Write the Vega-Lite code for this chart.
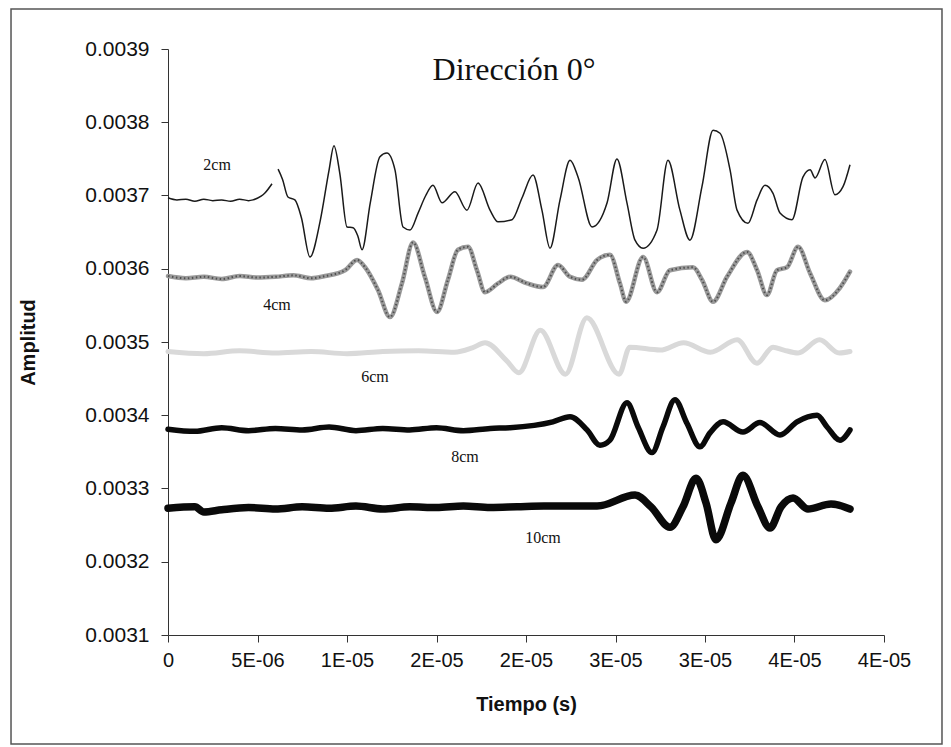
{
  "$schema": "https://vega.github.io/schema/vega-lite/v6.json",
  "width": 716,
  "height": 586,
  "autosize": {"type": "none"},
  "padding": {"left": 168, "top": 49, "right": 67, "bottom": 112},
  "background": "white",
  "config": {"view": {"stroke": null}, "font": "Liberation Sans"},
  "datasets": {
    "series": [
      {"s":"2cm","g":"2a","t":0,"v":0.003697},{"s":"2cm","g":"2a","t":0.5e-6,"v":0.003694},{"s":"2cm","g":"2a","t":1.0e-6,"v":0.003695},{"s":"2cm","g":"2a","t":1.5e-6,"v":0.003692},{"s":"2cm","g":"2a","t":2.0e-6,"v":0.003695},{"s":"2cm","g":"2a","t":2.5e-6,"v":0.003693},{"s":"2cm","g":"2a","t":3.0e-6,"v":0.003694},{"s":"2cm","g":"2a","t":3.5e-6,"v":0.003692},{"s":"2cm","g":"2a","t":4.0e-6,"v":0.003695},{"s":"2cm","g":"2a","t":4.5e-6,"v":0.003693},{"s":"2cm","g":"2a","t":4.75e-6,"v":0.003694},{"s":"2cm","g":"2a","t":5.2e-6,"v":0.003699},{"s":"2cm","g":"2a","t":5.4e-6,"v":0.003703},{"s":"2cm","g":"2a","t":5.81e-6,"v":0.003716},
      {"s":"2cm","g":"2b","t":6.15e-6,"v":0.003736},{"s":"2cm","g":"2b","t":6.4e-6,"v":0.003722},{"s":"2cm","g":"2b","t":6.7e-6,"v":0.003698},{"s":"2cm","g":"2b","t":7.09e-6,"v":0.003694},{"s":"2cm","g":"2b","t":7.45e-6,"v":0.003670},{"s":"2cm","g":"2b","t":7.93e-6,"v":0.003616},{"s":"2cm","g":"2b","t":8.5e-6,"v":0.003665},{"s":"2cm","g":"2b","t":9.0e-6,"v":0.003735},{"s":"2cm","g":"2b","t":9.27e-6,"v":0.003768},{"s":"2cm","g":"2b","t":9.6e-6,"v":0.003730},{"s":"2cm","g":"2b","t":10.0e-6,"v":0.003657},{"s":"2cm","g":"2b","t":10.34e-6,"v":0.003656},{"s":"2cm","g":"2b","t":10.6e-6,"v":0.003645},{"s":"2cm","g":"2b","t":10.84e-6,"v":0.003626},{"s":"2cm","g":"2b","t":11.3e-6,"v":0.003690},{"s":"2cm","g":"2b","t":11.84e-6,"v":0.003753},{"s":"2cm","g":"2b","t":12.23e-6,"v":0.003758},{"s":"2cm","g":"2b","t":12.68e-6,"v":0.003735},{"s":"2cm","g":"2b","t":13.13e-6,"v":0.003657},{"s":"2cm","g":"2b","t":13.52e-6,"v":0.003653},{"s":"2cm","g":"2b","t":13.97e-6,"v":0.003676},{"s":"2cm","g":"2b","t":14.4e-6,"v":0.003700},{"s":"2cm","g":"2b","t":14.8e-6,"v":0.003714},{"s":"2cm","g":"2b","t":15.31e-6,"v":0.003690},{"s":"2cm","g":"2b","t":16.03e-6,"v":0.003705},{"s":"2cm","g":"2b","t":16.7e-6,"v":0.003680},{"s":"2cm","g":"2b","t":17.32e-6,"v":0.003717},{"s":"2cm","g":"2b","t":17.99e-6,"v":0.003680},{"s":"2cm","g":"2b","t":18.44e-6,"v":0.003664},{"s":"2cm","g":"2b","t":19.22e-6,"v":0.003667},{"s":"2cm","g":"2b","t":19.78e-6,"v":0.003697},{"s":"2cm","g":"2b","t":20.39e-6,"v":0.003728},{"s":"2cm","g":"2b","t":20.89e-6,"v":0.003680},{"s":"2cm","g":"2b","t":21.34e-6,"v":0.003628},{"s":"2cm","g":"2b","t":21.9e-6,"v":0.003694},{"s":"2cm","g":"2b","t":22.46e-6,"v":0.003748},{"s":"2cm","g":"2b","t":22.91e-6,"v":0.003725},{"s":"2cm","g":"2b","t":23.69e-6,"v":0.003657},{"s":"2cm","g":"2b","t":24.53e-6,"v":0.003690},{"s":"2cm","g":"2b","t":25.08e-6,"v":0.003750},{"s":"2cm","g":"2b","t":25.64e-6,"v":0.003690},{"s":"2cm","g":"2b","t":26.09e-6,"v":0.003639},{"s":"2cm","g":"2b","t":26.54e-6,"v":0.003628},{"s":"2cm","g":"2b","t":27.32e-6,"v":0.003653},{"s":"2cm","g":"2b","t":27.93e-6,"v":0.003748},{"s":"2cm","g":"2b","t":28.6e-6,"v":0.003680},{"s":"2cm","g":"2b","t":29.16e-6,"v":0.003639},{"s":"2cm","g":"2b","t":29.83e-6,"v":0.003712},{"s":"2cm","g":"2b","t":30.45e-6,"v":0.003789},{"s":"2cm","g":"2b","t":30.84e-6,"v":0.003785},{"s":"2cm","g":"2b","t":31.4e-6,"v":0.003735},{"s":"2cm","g":"2b","t":31.79e-6,"v":0.003680},{"s":"2cm","g":"2b","t":32.4e-6,"v":0.003662},{"s":"2cm","g":"2b","t":32.91e-6,"v":0.003694},{"s":"2cm","g":"2b","t":33.35e-6,"v":0.003714},{"s":"2cm","g":"2b","t":33.8e-6,"v":0.003703},{"s":"2cm","g":"2b","t":34.19e-6,"v":0.003676},{"s":"2cm","g":"2b","t":34.86e-6,"v":0.003667},{"s":"2cm","g":"2b","t":35.47e-6,"v":0.003725},{"s":"2cm","g":"2b","t":35.87e-6,"v":0.003735},{"s":"2cm","g":"2b","t":36.15e-6,"v":0.003724},{"s":"2cm","g":"2b","t":36.7e-6,"v":0.003749},{"s":"2cm","g":"2b","t":37.26e-6,"v":0.003701},{"s":"2cm","g":"2b","t":37.71e-6,"v":0.003712},{"s":"2cm","g":"2b","t":38.1e-6,"v":0.003742},

      {"s":"4cm","g":"4","t":0,"v":0.003590},{"s":"4cm","g":"4","t":1e-6,"v":0.003587},{"s":"4cm","g":"4","t":2e-6,"v":0.003589},{"s":"4cm","g":"4","t":3e-6,"v":0.003586},{"s":"4cm","g":"4","t":4e-6,"v":0.003590},{"s":"4cm","g":"4","t":5e-6,"v":0.003588},{"s":"4cm","g":"4","t":6e-6,"v":0.003589},{"s":"4cm","g":"4","t":7e-6,"v":0.003591},{"s":"4cm","g":"4","t":8e-6,"v":0.003587},{"s":"4cm","g":"4","t":8.77e-6,"v":0.003590},{"s":"4cm","g":"4","t":9.89e-6,"v":0.003598},{"s":"4cm","g":"4","t":10.56e-6,"v":0.003612},{"s":"4cm","g":"4","t":11.01e-6,"v":0.003602},{"s":"4cm","g":"4","t":11.73e-6,"v":0.003571},{"s":"4cm","g":"4","t":12.4e-6,"v":0.003534},{"s":"4cm","g":"4","t":13.07e-6,"v":0.003580},{"s":"4cm","g":"4","t":13.69e-6,"v":0.003636},{"s":"4cm","g":"4","t":14.36e-6,"v":0.003588},{"s":"4cm","g":"4","t":15.03e-6,"v":0.003541},{"s":"4cm","g":"4","t":15.64e-6,"v":0.003585},{"s":"4cm","g":"4","t":16.2e-6,"v":0.003626},{"s":"4cm","g":"4","t":16.76e-6,"v":0.003630},{"s":"4cm","g":"4","t":17.26e-6,"v":0.003598},{"s":"4cm","g":"4","t":17.71e-6,"v":0.003568},{"s":"4cm","g":"4","t":18.44e-6,"v":0.003580},{"s":"4cm","g":"4","t":19.11e-6,"v":0.003589},{"s":"4cm","g":"4","t":20.06e-6,"v":0.003580},{"s":"4cm","g":"4","t":20.95e-6,"v":0.003575},{"s":"4cm","g":"4","t":21.79e-6,"v":0.003605},{"s":"4cm","g":"4","t":22.46e-6,"v":0.003589},{"s":"4cm","g":"4","t":23.13e-6,"v":0.003585},{"s":"4cm","g":"4","t":23.97e-6,"v":0.003612},{"s":"4cm","g":"4","t":24.69e-6,"v":0.003619},{"s":"4cm","g":"4","t":25.25e-6,"v":0.003580},{"s":"4cm","g":"4","t":25.59e-6,"v":0.003555},{"s":"4cm","g":"4","t":26.54e-6,"v":0.003616},{"s":"4cm","g":"4","t":27.32e-6,"v":0.003568},{"s":"4cm","g":"4","t":28.04e-6,"v":0.003598},{"s":"4cm","g":"4","t":29.33e-6,"v":0.003602},{"s":"4cm","g":"4","t":29.83e-6,"v":0.003585},{"s":"4cm","g":"4","t":30.45e-6,"v":0.003555},{"s":"4cm","g":"4","t":31.23e-6,"v":0.003589},{"s":"4cm","g":"4","t":32.35e-6,"v":0.003623},{"s":"4cm","g":"4","t":32.91e-6,"v":0.003598},{"s":"4cm","g":"4","t":33.46e-6,"v":0.003564},{"s":"4cm","g":"4","t":34.02e-6,"v":0.003598},{"s":"4cm","g":"4","t":34.58e-6,"v":0.003602},{"s":"4cm","g":"4","t":35.2e-6,"v":0.003630},{"s":"4cm","g":"4","t":35.87e-6,"v":0.003594},{"s":"4cm","g":"4","t":36.7e-6,"v":0.003557},{"s":"4cm","g":"4","t":37.54e-6,"v":0.003574},{"s":"4cm","g":"4","t":38.1e-6,"v":0.003596},

      {"s":"6cm","g":"6","t":0,"v":0.003487},{"s":"6cm","g":"6","t":2e-6,"v":0.003484},{"s":"6cm","g":"6","t":4e-6,"v":0.003488},{"s":"6cm","g":"6","t":6e-6,"v":0.003485},{"s":"6cm","g":"6","t":8e-6,"v":0.003487},{"s":"6cm","g":"6","t":10e-6,"v":0.003484},{"s":"6cm","g":"6","t":12e-6,"v":0.003487},{"s":"6cm","g":"6","t":14e-6,"v":0.003488},{"s":"6cm","g":"6","t":16e-6,"v":0.003486},{"s":"6cm","g":"6","t":17e-6,"v":0.003492},{"s":"6cm","g":"6","t":17.71e-6,"v":0.003499},{"s":"6cm","g":"6","t":18.9e-6,"v":0.003475},{"s":"6cm","g":"6","t":19.6e-6,"v":0.003458},{"s":"6cm","g":"6","t":20.8e-6,"v":0.003516},{"s":"6cm","g":"6","t":22.2e-6,"v":0.003456},{"s":"6cm","g":"6","t":23.4e-6,"v":0.003533},{"s":"6cm","g":"6","t":25.2e-6,"v":0.003456},{"s":"6cm","g":"6","t":25.8e-6,"v":0.003493},{"s":"6cm","g":"6","t":27.5e-6,"v":0.003489},{"s":"6cm","g":"6","t":28.8e-6,"v":0.003499},{"s":"6cm","g":"6","t":30.3e-6,"v":0.003486},{"s":"6cm","g":"6","t":31.8e-6,"v":0.003503},{"s":"6cm","g":"6","t":32.9e-6,"v":0.003471},{"s":"6cm","g":"6","t":33.8e-6,"v":0.003493},{"s":"6cm","g":"6","t":34.4e-6,"v":0.003489},{"s":"6cm","g":"6","t":35.2e-6,"v":0.003485},{"s":"6cm","g":"6","t":36.4e-6,"v":0.003503},{"s":"6cm","g":"6","t":37.5e-6,"v":0.003485},{"s":"6cm","g":"6","t":38.1e-6,"v":0.003487},

      {"s":"8cm","g":"8","t":0,"v":0.003381},{"s":"8cm","g":"8","t":1.5e-6,"v":0.003378},{"s":"8cm","g":"8","t":3e-6,"v":0.003383},{"s":"8cm","g":"8","t":4.5e-6,"v":0.003379},{"s":"8cm","g":"8","t":6e-6,"v":0.003382},{"s":"8cm","g":"8","t":7.5e-6,"v":0.003380},{"s":"8cm","g":"8","t":9e-6,"v":0.003384},{"s":"8cm","g":"8","t":10.5e-6,"v":0.003379},{"s":"8cm","g":"8","t":12e-6,"v":0.003382},{"s":"8cm","g":"8","t":13.5e-6,"v":0.003380},{"s":"8cm","g":"8","t":15e-6,"v":0.003383},{"s":"8cm","g":"8","t":16.5e-6,"v":0.003379},{"s":"8cm","g":"8","t":18e-6,"v":0.003382},{"s":"8cm","g":"8","t":19.11e-6,"v":0.003383},{"s":"8cm","g":"8","t":21.5e-6,"v":0.003391},{"s":"8cm","g":"8","t":22.46e-6,"v":0.003398},{"s":"8cm","g":"8","t":23.41e-6,"v":0.003380},{"s":"8cm","g":"8","t":24.13e-6,"v":0.003359},{"s":"8cm","g":"8","t":24.69e-6,"v":0.003366},{"s":"8cm","g":"8","t":25.64e-6,"v":0.003417},{"s":"8cm","g":"8","t":26.26e-6,"v":0.003384},{"s":"8cm","g":"8","t":27.04e-6,"v":0.003349},{"s":"8cm","g":"8","t":27.65e-6,"v":0.003384},{"s":"8cm","g":"8","t":28.32e-6,"v":0.003421},{"s":"8cm","g":"8","t":28.99e-6,"v":0.003389},{"s":"8cm","g":"8","t":29.72e-6,"v":0.003357},{"s":"8cm","g":"8","t":30.28e-6,"v":0.003376},{"s":"8cm","g":"8","t":31.01e-6,"v":0.003391},{"s":"8cm","g":"8","t":32.12e-6,"v":0.003377},{"s":"8cm","g":"8","t":33.07e-6,"v":0.003390},{"s":"8cm","g":"8","t":34.19e-6,"v":0.003373},{"s":"8cm","g":"8","t":35.14e-6,"v":0.003391},{"s":"8cm","g":"8","t":36.26e-6,"v":0.003400},{"s":"8cm","g":"8","t":36.82e-6,"v":0.003384},{"s":"8cm","g":"8","t":37.54e-6,"v":0.003366},{"s":"8cm","g":"8","t":38.1e-6,"v":0.003380},

      {"s":"10cm","g":"10","t":0,"v":0.003273},{"s":"10cm","g":"10","t":1.5e-6,"v":0.003275},{"s":"10cm","g":"10","t":2e-6,"v":0.003268},{"s":"10cm","g":"10","t":3e-6,"v":0.003271},{"s":"10cm","g":"10","t":4.5e-6,"v":0.003274},{"s":"10cm","g":"10","t":6e-6,"v":0.003272},{"s":"10cm","g":"10","t":7.5e-6,"v":0.003275},{"s":"10cm","g":"10","t":9e-6,"v":0.003273},{"s":"10cm","g":"10","t":10.5e-6,"v":0.003276},{"s":"10cm","g":"10","t":12e-6,"v":0.003272},{"s":"10cm","g":"10","t":13.5e-6,"v":0.003275},{"s":"10cm","g":"10","t":15e-6,"v":0.003274},{"s":"10cm","g":"10","t":16.5e-6,"v":0.003276},{"s":"10cm","g":"10","t":18e-6,"v":0.003274},{"s":"10cm","g":"10","t":19.5e-6,"v":0.003275},{"s":"10cm","g":"10","t":21e-6,"v":0.003276},{"s":"10cm","g":"10","t":23.97e-6,"v":0.003276},{"s":"10cm","g":"10","t":26.09e-6,"v":0.003291},{"s":"10cm","g":"10","t":26.98e-6,"v":0.003275},{"s":"10cm","g":"10","t":28.04e-6,"v":0.003247},{"s":"10cm","g":"10","t":28.77e-6,"v":0.003275},{"s":"10cm","g":"10","t":29.5e-6,"v":0.003314},{"s":"10cm","g":"10","t":30.06e-6,"v":0.003280},{"s":"10cm","g":"10","t":30.61e-6,"v":0.003230},{"s":"10cm","g":"10","t":31.45e-6,"v":0.003280},{"s":"10cm","g":"10","t":32.12e-6,"v":0.003318},{"s":"10cm","g":"10","t":32.96e-6,"v":0.003275},{"s":"10cm","g":"10","t":33.63e-6,"v":0.003246},{"s":"10cm","g":"10","t":34.25e-6,"v":0.003275},{"s":"10cm","g":"10","t":34.92e-6,"v":0.003287},{"s":"10cm","g":"10","t":35.75e-6,"v":0.003272},{"s":"10cm","g":"10","t":37.04e-6,"v":0.003279},{"s":"10cm","g":"10","t":38.1e-6,"v":0.003272}
    ],
    "labels": [
      {"txt":"2cm","t":2.74e-6,"v":0.0037416},
      {"txt":"4cm","t":6.09e-6,"v":0.0035505},
      {"txt":"6cm","t":11.56e-6,"v":0.0034523},
      {"txt":"8cm","t":16.59e-6,"v":0.003343},
      {"txt":"10cm","t":20.95e-6,"v":0.0032325}
    ],
    "heading": [
      {"txt":"Dirección 0°","t":19.33e-6,"v":0.0038713}
    ]
  },
  "layer": [
    {
      "data": {"values": [{"frame": "border"}]},
      "mark": {"type": "rect", "fill": "transparent", "stroke": "#555555", "strokeWidth": 1.5, "clip": false},
      "encoding": {
        "x": {"datum": -8.77e-6, "type": "quantitative", "scale": {"domain": [0, 4e-5], "nice": false, "zero": false}},
        "x2": {"datum": 4.324e-5},
        "y": {"datum": 0.0039546, "type": "quantitative", "scale": {"domain": [0.0031, 0.0039], "nice": false, "zero": false}},
        "y2": {"datum": 0.0029512}
      }
    },
    {
      "data": {"name": "series"},
      "transform": [{"filter": "datum.s == '10cm'"}],
      "mark": {"type": "line", "color": "#0a0a0a", "strokeWidth": 7.5, "interpolate": "monotone", "strokeJoin": "round", "strokeCap": "round"},
      "encoding": {
        "x": {
          "field": "t", "type": "quantitative",
          "scale": {"domain": [0, 4e-5], "nice": false, "zero": false},
          "axis": {
            "title": "Tiempo (s)",
            "values": [0, 5e-6, 1e-5, 1.5e-5, 2e-5, 2.5e-5, 3e-5, 3.5e-5, 4e-5],
            "labelExpr": "datum.value == 0 ? '0' : datum.value < 7e-6 ? '5E-06' : datum.value < 1.2e-5 ? '1E-05' : datum.value < 2.2e-5 ? '2E-05' : datum.value < 3.2e-5 ? '3E-05' : '4E-05'",
            "grid": false, "domainColor": "#333333", "tickColor": "#333333", "tickSize": 7,
            "labelFont": "Liberation Sans", "labelFontSize": 20, "labelColor": "#111111", "labelPadding": 8,
            "labelFlush": false, "labelOverlap": false,
            "titleFont": "Liberation Sans", "titleFontSize": 20, "titleFontWeight": "bold", "titleColor": "#111111", "titlePadding": 24
          }
        },
        "y": {
          "field": "v", "type": "quantitative",
          "scale": {"domain": [0.0031, 0.0039], "nice": false, "zero": false},
          "axis": {
            "title": "Amplitud",
            "values": [0.0031, 0.0032, 0.0033, 0.0034, 0.0035, 0.0036, 0.0037, 0.0038, 0.0039],
            "format": ".4f",
            "grid": false, "domainColor": "#333333", "tickColor": "#333333", "tickSize": 7,
            "labelFont": "Liberation Sans", "labelFontSize": 21, "labelColor": "#111111", "labelPadding": 12,
            "titleFont": "Liberation Sans", "titleFontSize": 20, "titleFontWeight": "bold", "titleColor": "#111111", "titlePadding": 46
          }
        },
        "detail": {"field": "g", "type": "nominal"}
      }
    },
    {
      "data": {"name": "series"},
      "transform": [{"filter": "datum.s == '8cm'"}],
      "mark": {"type": "line", "color": "#0a0a0a", "strokeWidth": 5.5, "interpolate": "monotone", "strokeJoin": "round", "strokeCap": "round"},
      "encoding": {"x": {"field": "t", "type": "quantitative"}, "y": {"field": "v", "type": "quantitative"}, "detail": {"field": "g", "type": "nominal"}}
    },
    {
      "data": {"name": "series"},
      "transform": [{"filter": "datum.s == '6cm'"}],
      "mark": {"type": "line", "color": "#d9d9d9", "strokeWidth": 5, "interpolate": "monotone", "strokeJoin": "round", "strokeCap": "round"},
      "encoding": {"x": {"field": "t", "type": "quantitative"}, "y": {"field": "v", "type": "quantitative"}, "detail": {"field": "g", "type": "nominal"}}
    },
    {
      "data": {"name": "series"},
      "transform": [{"filter": "datum.s == '4cm'"}],
      "mark": {"type": "line", "color": "#9a9a9a", "strokeWidth": 4.5, "interpolate": "monotone", "strokeJoin": "round", "strokeCap": "round"},
      "encoding": {"x": {"field": "t", "type": "quantitative"}, "y": {"field": "v", "type": "quantitative"}, "detail": {"field": "g", "type": "nominal"}}
    },
    {
      "data": {"name": "series"},
      "transform": [{"filter": "datum.s == '4cm'"}],
      "mark": {"type": "line", "color": "#505050", "strokeWidth": 2, "strokeDash": [1.5, 2.5], "interpolate": "monotone"},
      "encoding": {"x": {"field": "t", "type": "quantitative"}, "y": {"field": "v", "type": "quantitative"}, "detail": {"field": "g", "type": "nominal"}}
    },
    {
      "data": {"name": "series"},
      "transform": [{"filter": "datum.s == '2cm'"}],
      "mark": {"type": "line", "color": "#1a1a1a", "strokeWidth": 1.5, "interpolate": "monotone", "strokeJoin": "round"},
      "encoding": {"x": {"field": "t", "type": "quantitative"}, "y": {"field": "v", "type": "quantitative"}, "detail": {"field": "g", "type": "nominal"}}
    },
    {
      "data": {"name": "labels"},
      "mark": {"type": "text", "font": "Liberation Serif", "fontSize": 16, "color": "#111111", "align": "center", "baseline": "middle"},
      "encoding": {"x": {"field": "t", "type": "quantitative"}, "y": {"field": "v", "type": "quantitative"}, "text": {"field": "txt"}}
    },
    {
      "data": {"name": "heading"},
      "mark": {"type": "text", "font": "Liberation Serif", "fontSize": 32, "color": "#111111", "align": "center", "baseline": "middle"},
      "encoding": {"x": {"field": "t", "type": "quantitative"}, "y": {"field": "v", "type": "quantitative"}, "text": {"field": "txt"}}
    }
  ]
}
